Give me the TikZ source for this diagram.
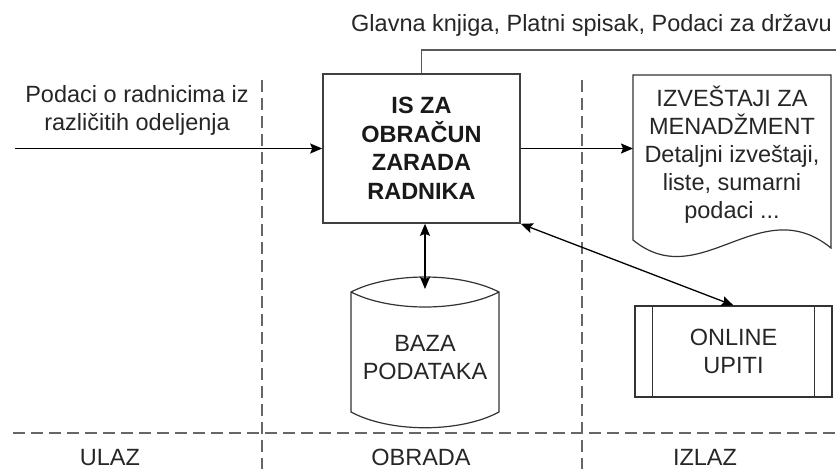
\documentclass[tikz,border=0pt]{standalone}
\usepackage{fontspec}
\setmainfont{Liberation Sans}
\usetikzlibrary{arrows.meta}
\begin{document}
\begin{tikzpicture}[x=1pt,y=-1pt,
  txt/.style={font=\fontsize{23.5}{28}\selectfont, text=black!85, align=center, inner sep=0pt},
  btxt/.style={font=\fontsize{23.5}{28.5}\selectfont\bfseries, text=black!90, align=center, inner sep=0pt},
  bx/.style={draw=black!75, line width=1.6pt, fill=white},
  thinbx/.style={draw=black!80, line width=1.2pt, fill=white},
  conn/.style={draw=black, line width=1.3pt},
  arr/.style={conn, -{Stealth[length=12pt,width=10pt,inset=2pt]}},
  darr/.style={conn, {Stealth[length=12pt,width=10pt,inset=2pt]}-{Stealth[length=12pt,width=10pt,inset=2pt]}},
  sep/.style={draw=black!60, line width=1.4pt, dash pattern=on 12pt off 6pt},
]
\useasboundingbox (0,0) rectangle (836,469);

% zone separators
\draw[sep] (13,433) -- (836,433);
\draw[sep] (262,80) -- (262,469);
\draw[sep] (582,80) -- (582,469);

% main process box
\node[bx, btxt, minimum width=197pt, minimum height=149pt] (is) at (421.5,148.5)
  {IS ZA\\OBRAČUN\\ZARADA\\RADNIKA};

% input
\coordinate (inp) at (15,148.5);
\node[txt] (intext) at (137,110) {Podaci o radnicima iz\\različitih odeljenja};
\draw[arr] (inp) -- (is.west);

% top output
\coordinate (outtop) at (840,50);
\node[txt, anchor=base west] (toptext) at (351,31) {Glavna knjiga, Platni spisak, Podaci za državu};
\draw[draw=black!65, line width=1.4pt] (is.north) |- (outtop);

% document shape
\path[thinbx] (633,75) -- (831,75) -- (831,248)
  .. controls (760,190) and (700,295) .. (633,240) -- cycle;
\node[txt] (doc) at (732,155) {IZVEŠTAJI ZA\\MENADŽMENT\\Detaljni izveštaji,\\liste, sumarni\\podaci ...};
\coordinate (docin) at (633,148.5);
\draw[arr] (is.east) -- (docin);

% database cylinder
\path[thinbx] (351,292) .. controls (390,272) and (460,272) .. (499,292) -- (499,412)
  .. controls (460,433) and (390,433) .. (351,412) -- cycle;
\draw[thinbx, fill=none] (351,292) .. controls (390,312) and (460,312) .. (499,292);
\node[txt] (db) at (425,358) {BAZA\\PODATAKA};
\coordinate (dbtop) at (425,289);
\draw[darr] (dbtop) -- (dbtop |- is.south);

% online queries
\node[thinbx, txt, minimum width=197pt, minimum height=91pt] (up) at (733.5,351.5) {ONLINE\\UPITI};
\draw[thinbx] ([xshift=18pt]up.north west) -- ([xshift=18pt]up.south west);
\draw[thinbx] ([xshift=-18pt]up.north east) -- ([xshift=-18pt]up.south east);
\draw[darr] (is.south east) -- (up.north);

% zone labels
\node[txt, anchor=base] (ulaz) at (110,465) {ULAZ};
\node[txt, anchor=base] (obrada) at (421,465) {OBRADA};
\node[txt, anchor=base] (izlaz) at (705,465) {IZLAZ};
\end{tikzpicture}
\end{document}
